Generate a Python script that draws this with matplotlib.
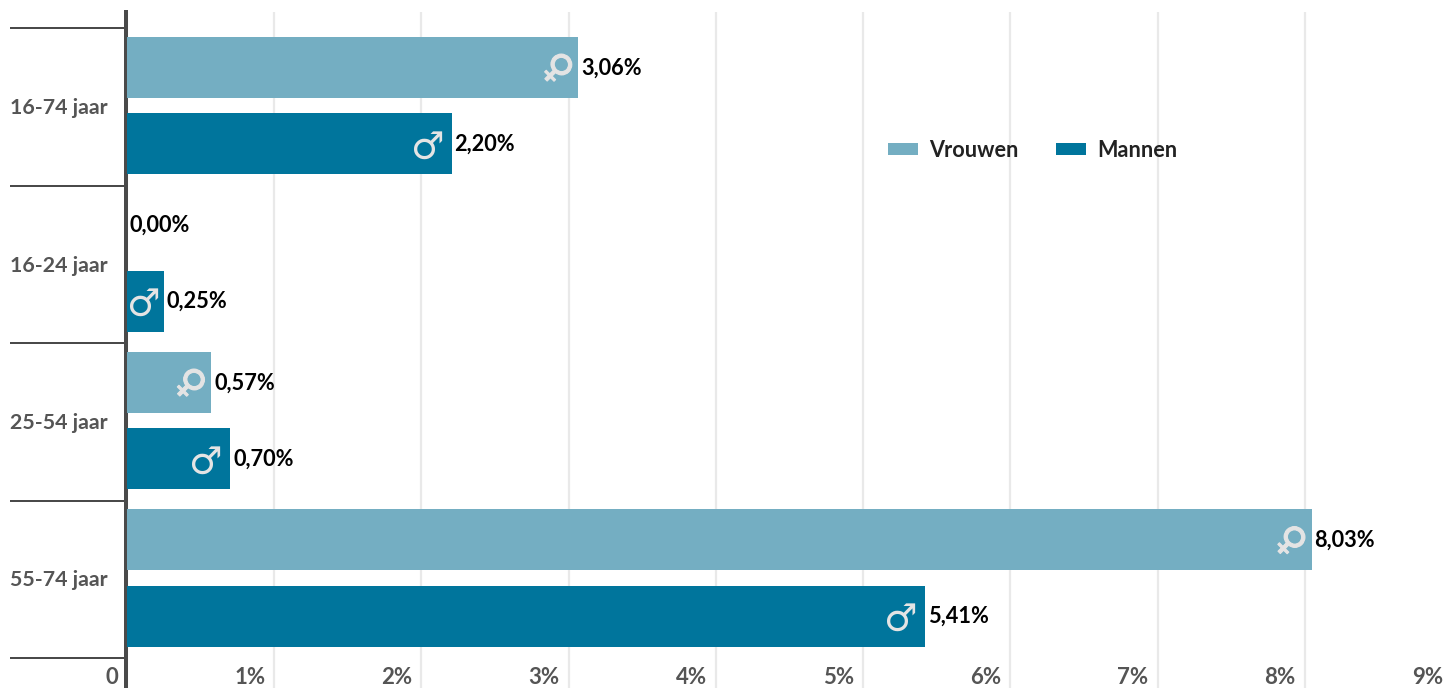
import matplotlib
matplotlib.use("Agg")
import matplotlib.pyplot as plt
import matplotlib.patheffects as pe
from matplotlib.transforms import ScaledTranslation

categories = ["16-74 jaar", "16-24 jaar", "25-54 jaar", "55-74 jaar"]
vrouwen = [3.06, 0.00, 0.57, 8.03]
mannen = [2.20, 0.25, 0.70, 5.41]
x_ticks = [0, 1, 2, 3, 4, 5, 6, 7, 8, 9]
x_labels = ["0", "1%", "2%", "3%", "4%", "5%", "6%", "7%", "8%", "9%"]
bar_scale = 1.002

W, H = 1446, 688
plt.rcParams["font.family"] = ["Lato", "DejaVu Sans"]
plt.rcParams["font.weight"] = "bold"
fig = plt.figure(figsize=(W / 100, H / 100), dpi=100)
ax = fig.add_axes([127 / W, 0, (1452 - 127) / W, (688 - 12) / H])
ax.set_xlim(0, 9)
band = 157.5
ax.set_ylim((688 - 107) / band, (12 - 107) / band)

C_F, C_M = "#74aec2", "#00759c"
DARK, GREY = "#4a4a4a", "#555555"
SYM = "#e4e4e4"
px = 72 / 100
h = 61 / band
off_f, off_m = -39.5 / band, 36.5 / band

ys = list(range(len(categories)))
ax.barh([y + off_f for y in ys], [v * bar_scale for v in vrouwen], height=h, color=C_F, label="Vrouwen", zorder=3)
ax.barh([y + off_m for y in ys], [v * bar_scale for v in mannen], height=h, color=C_M, label="Mannen", zorder=3)

for y, v, m in zip(ys, vrouwen, mannen):
    for val, yy, sym, rot, sw, dy, base_dx in ((v, y + off_f, "\u2640", -45, 0.8, -2, -22),
                                               (m, y + off_m, "\u2642", 0, 0, -5, -25)):
        ax.annotate(f"{val:.2f}%".replace(".", ","), (val * bar_scale, yy), xytext=(3 * px, -0.5 * px),
                    textcoords="offset points", ha="left", va="center", color="black", fontsize=15.7, zorder=5)
        if val > 0:
            dx = -21 if val < 0.3 else base_dx
            sy = ax.annotate(sym, (val * bar_scale, yy), xytext=(dx * px, dy * px), textcoords="offset points",
                             ha="center", va="center", color=SYM, fontsize=27, rotation=rot,
                             rotation_mode="anchor", family="DejaVu Sans", fontweight="normal", zorder=5)
            if sw:
                sy.set_path_effects([pe.withStroke(linewidth=sw, foreground=SYM)])

for s in ("top", "right", "bottom"):
    ax.spines[s].set_visible(False)
ax.spines["left"].set_color(DARK)
ax.spines["left"].set_linewidth(4 * px)
ax.spines["left"].set_position(("outward", 1 * px))

ax.set_axisbelow(True)
ax.xaxis.grid(True, color="#e9e9e9", lw=2.2 * px, zorder=0)
ax.set_xticks(x_ticks)
ax.set_xticklabels(x_labels)
ax.tick_params(axis="x", length=0, labelsize=16, labelcolor=GREY, pad=-15, direction="in")
for t in ax.get_xticklabels():
    t.set_ha("right")
    t.set_transform(t.get_transform() + ScaledTranslation(-9 / 100, 0, fig.dpi_scale_trans))

ax.set_yticks(ys)
ax.set_yticklabels(categories)
ax.tick_params(axis="y", which="major", length=0, labelsize=15.4, labelcolor=GREY, pad=18 * px)
for t in ax.get_yticklabels():
    t.set_transform(t.get_transform() + ScaledTranslation(0, 1 / 100, fig.dpi_scale_trans))
ax.set_yticks([y - 0.5 for y in ys] + [ys[-1] + 0.5], minor=True)
ax.tick_params(axis="y", which="minor", length=116 * px, width=2 * px, color=DARK)

leg_fs = 15.6
em = leg_fs / px
leg = ax.legend(loc="upper left", bbox_to_anchor=((888 - 127) / (1452 - 127), (688 - 140) / (688 - 12)),
                ncols=2, frameon=False, fontsize=leg_fs, handlelength=30 / em,
                handleheight=0.5, handletextpad=11 / em, columnspacing=38 / em,
                borderpad=0, borderaxespad=0, labelcolor="#222222")
leg.set_zorder(6)

fig.savefig("out.png", dpi=100)
